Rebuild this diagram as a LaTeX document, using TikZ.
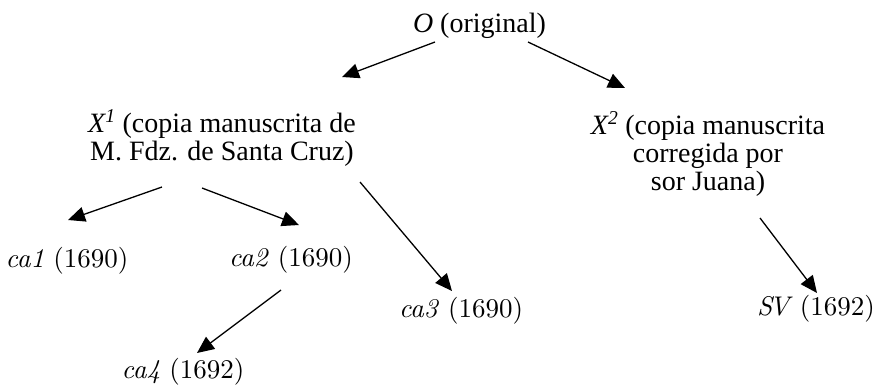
\documentclass[tikz,border=0pt]{standalone}
\usepackage{fontspec}
\newfontfamily\bask{Liberation Serif}
\newfontfamily\lmten{lmroman10-regular}[Extension=.otf, ItalicFont=lmroman10-italic]
\usetikzlibrary{arrows.meta}
\tikzset{
  bigtxt/.style={font=\bask\fontsize{28}{28}\selectfont, inner sep=0pt, anchor=base, align=center},
  smalltxt/.style={font=\lmten\fontsize{27}{31}\selectfont, inner sep=0pt, anchor=base},
  arr/.style={line width=1.3pt, -{Triangle[length=17pt,width=15pt]}}
}
\begin{document}
\begin{tikzpicture}[x=1pt,y=-1pt]
\useasboundingbox (0,0) rectangle (877,384);
\node[bigtxt] (O) at (479.5,32) {\textit{O} (original)};
\node[bigtxt] (X1) at (222,160) {\textit{X\textsuperscript{1}} (copia manuscrita de\\M. Fdz. de Santa Cruz)};
\node[bigtxt] (X2) at (708,190) {\textit{X\textsuperscript{2}} (copia manuscrita\\corregida por\\sor Juana)};
\node[smalltxt] (ca1) at (67,267) {\textit{ca1} (1690)};
\node[smalltxt] (ca2) at (291,266) {\textit{ca2} (1690)};
\node[smalltxt] (ca3) at (461,317) {\textit{ca3} (1690)};
\node[smalltxt] (ca4) at (183,378) {\textit{ca4} (1692)};
\node[smalltxt] (SV) at (816,315) {\textit{S\kern-3pt V}\kern-2pt{} (1692)};
\draw[arr] ([shift={(-44.5,10)}]O.base) -- ([shift={(120,-83)}]X1.base);
\draw[arr] ([shift={(48.5,10)}]O.base) -- ([shift={(-83,-102)}]X2.base);
\draw[arr] ([shift={(-60,27)}]X1.base) -- ([shift={(1,-47)}]ca1.base);
\draw[arr] ([shift={(-20,28)}]X1.base) -- ([shift={(8,-41)}]ca2.base);
\draw[arr] ([shift={(138,22)}]X1.base) -- ([shift={(-9,-26)}]ca3.base);
\draw[arr] ([shift={(-10,24)}]ca2.base) -- ([shift={(14,-25)}]ca4.base);
\draw[arr] ([shift={(52,28)}]X2.base) -- ([shift={(1,-22)}]SV.base);
\end{tikzpicture}
\end{document}
